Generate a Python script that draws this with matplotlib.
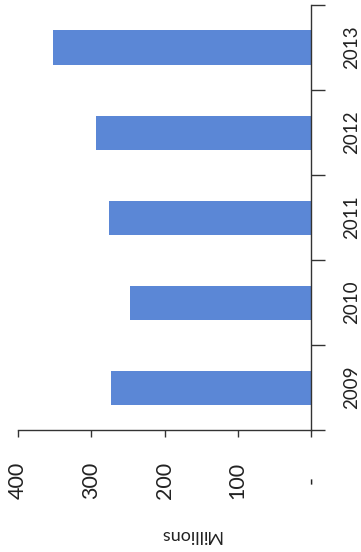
import matplotlib
matplotlib.use("Agg")
import matplotlib.pyplot as plt
import numpy as np

# Annual totals, in millions
years = ["2009", "2010", "2011", "2012", "2013"]
values = [273, 247, 276, 294, 352]

value_ticks = [0, 100, 200, 300, 400]
value_tick_labels = ["-", "100", "200", "300", "400"]

bar_color = "#5B87D6"
axis_color = "#333333"
text_color = "#222222"
font = ["Lato", "DejaVu Sans"]

W, H = 361, 552
fig = plt.figure(figsize=(W / 100, H / 100), dpi=100)
fig.patch.set_facecolor("white")

left, right, bottom, top = 18, 311, 430, 5
ax = fig.add_axes([left / W, (H - bottom) / H, (right - left) / W, (bottom - top) / H])

pos = np.arange(len(years))
ax.barh(pos, values, height=0.4, color=bar_color, edgecolor="none")

# value axis runs right-to-left, categories stacked bottom-to-top
ax.set_xlim(400, 0)
ax.set_ylim(-0.5, len(years) - 0.5)

for s in ("left", "top"):
    ax.spines[s].set_visible(False)
for s in ("right", "bottom"):
    ax.spines[s].set_color(axis_color)
    ax.spines[s].set_linewidth(1.0)

# value axis ticks and labels
ax.set_xticks(value_ticks)
ax.set_xticklabels(value_tick_labels, rotation=90, fontsize=15.5, family=font,
                   color=text_color, va="center", ha="center")
ax.tick_params(axis="x", direction="out", length=5, width=1.0, color=axis_color, pad=31)

# category axis on the right, boundary ticks with centred year labels
ax.yaxis.set_ticks_position("right")
ax.set_yticks(np.arange(-0.5, len(years)), minor=False)
ax.set_yticklabels([])
ax.set_yticks(pos, minor=True)
ax.set_yticklabels(years, minor=True, rotation=90, fontsize=13.5, family=font,
                   color=text_color, va="center", ha="center")
ax.tick_params(axis="y", which="major", direction="out", length=10, width=1.0,
               color=axis_color)
ax.tick_params(axis="y", which="minor", length=0, pad=29)

ax.text(0.587, -0.247, "Millions", transform=ax.transAxes, rotation=180,
        ha="center", va="center", fontsize=13, family=font, color=text_color)

fig.savefig("out.png", dpi=100, facecolor="white")
